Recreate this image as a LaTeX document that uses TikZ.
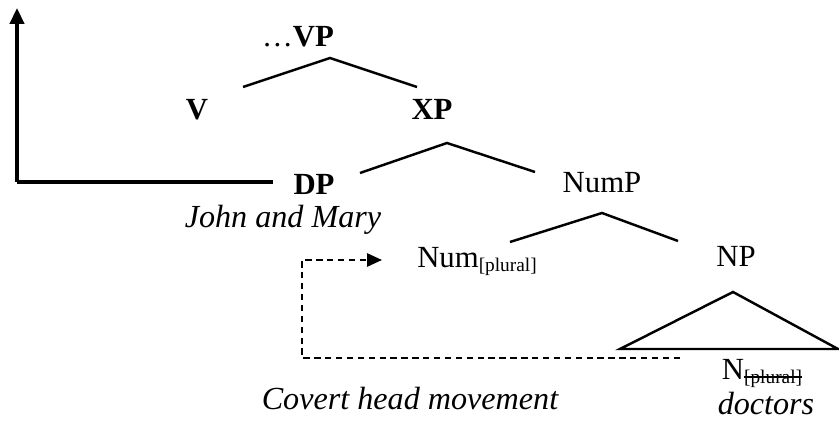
\documentclass[tikz,border=0pt]{standalone}
\usepackage{fontspec}
\setmainfont{Liberation Serif}
\usepackage{tikz}
\usetikzlibrary{arrows.meta}

\newcommand{\feat}[1]{\raisebox{-2pt}{\fontsize{11}{12}\selectfont #1}}
\newcommand{\struck}[1]{\setbox0=\hbox{#1}\rlap{\rule[0.3em]{\wd0}{0.8pt}}\box0}

\begin{document}
\begin{tikzpicture}[
    x=0.02cm, y=-0.02cm,
    every node/.style={inner sep=0pt, anchor=base, font=\fontsize{17.5}{20}\selectfont},
    label/.style={font=\fontsize{17.5}{20}\selectfont\bfseries},
    gloss/.style={font=\fontsize{18.3}{20}\selectfont\itshape},
    branch/.style={line width=1.4pt},
    move/.style={line width=1.2pt, dash pattern=on 3.6pt off 2.6pt},
]
    \useasboundingbox (0,0) rectangle (839,421);

    \node[label] (vp)   at (298,47)  {\mdseries\ldots\bfseries VP};
    \node[label] (v)    at (197,120) {V};
    \node[label] (xp)   at (432,120) {XP};
    \node[label] (dp)   at (314,195) {DP};
    \node        (nump) at (602,193) {NumP};
    \node        (num)  at (477,268) {Num\feat{[plural]}};
    \node        (np)   at (736,267) {NP};
    \node        (n)    at (762,380) {N\feat{\struck{[plural]}}};
    \node[gloss] (jm)   at (283,228) {John and Mary};
    \node[gloss] (doc)  at (766,415) {doctors};
    \node[gloss] (cov)  at (410,410) {Covert head movement};

    \coordinate (origin) at (17,182);
    \coordinate (ytop)   at (17,8);
    \coordinate (xend)   at (273,182);
    \draw[line width=2pt, -{Triangle[length=9pt,width=8pt]}] (origin) -- (ytop);
    \draw[line width=2pt] (origin) -- (xend);

    \coordinate (vptop) at (330,58);
    \coordinate (vpl)   at (243,87);
    \coordinate (vpr)   at (417,87);
    \coordinate (xptop) at (447,143);
    \coordinate (xpl)   at (360,173);
    \coordinate (xpr)   at (535,172);
    \coordinate (numtop) at (602,213);
    \coordinate (numl)  at (510,242);
    \coordinate (numr)  at (678,241);
    \coordinate (tritop) at (733,292);
    \coordinate (tril)  at (620,349);
    \coordinate (trir)  at (838,349);

    \draw[branch] (vpl) -- (vptop) -- (vpr);
    \draw[branch] (xpl) -- (xptop) -- (xpr);
    \draw[branch] (numl) -- (numtop) -- (numr);
    \draw[branch, line join=miter] (tritop) -- (tril) -- (trir) -- cycle;

    \coordinate (trace)  at (680,358);
    \coordinate (corner) at (302,260);
    \coordinate (land)   at (382,260);
    \draw[move, -{Triangle[length=8.5pt,width=7.5pt]}] (trace) -| (corner) -- (land);
\end{tikzpicture}
\end{document}
